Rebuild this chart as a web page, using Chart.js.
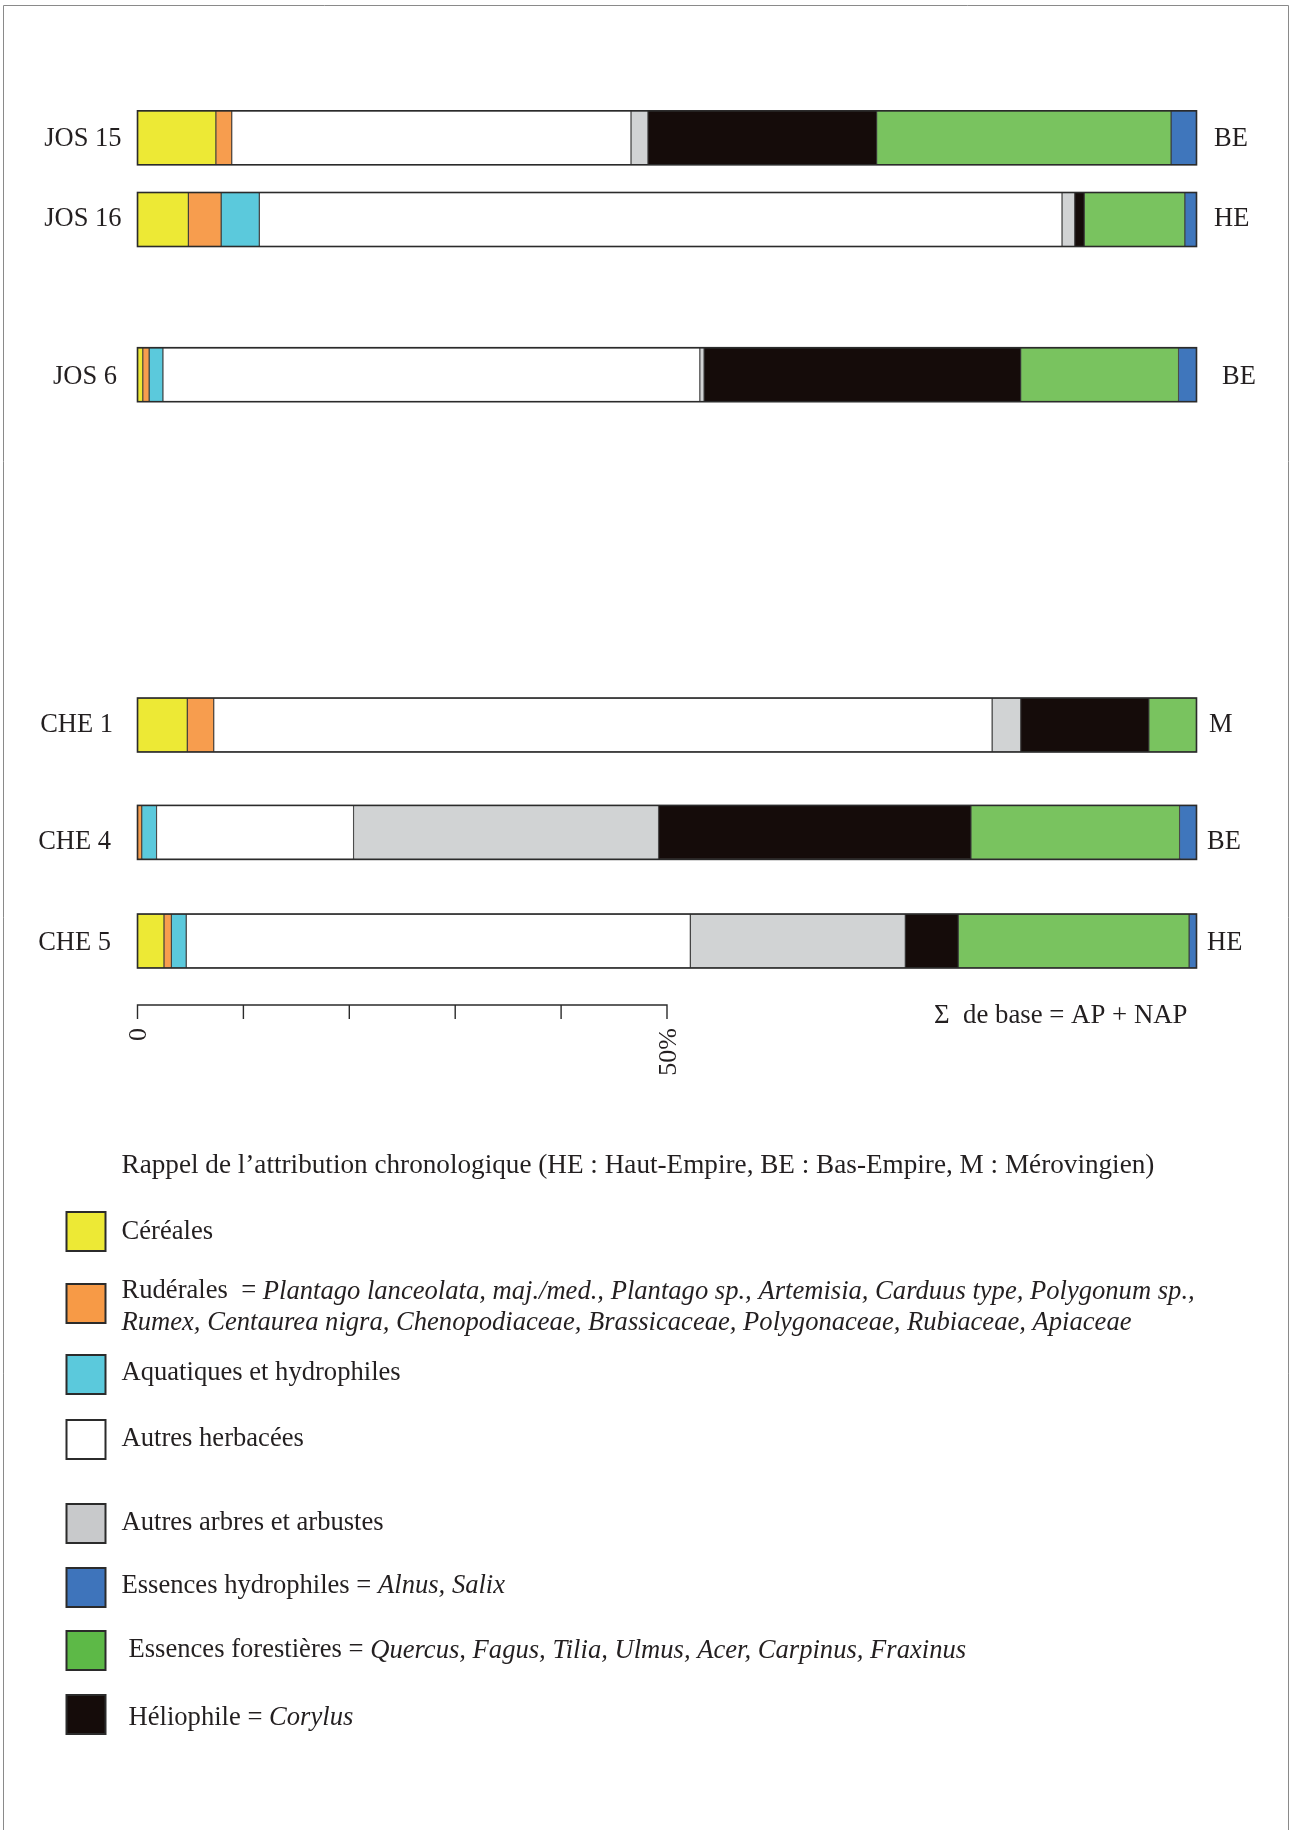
<!DOCTYPE html>
<html>
<head>
<meta charset="utf-8">
<script src="https://cdn.jsdelivr.net/npm/chart.js@4.4.1/dist/chart.umd.min.js"></script>
<style>
html,body{margin:0;padding:0;background:#fff;}
#wrap{position:relative;width:1290px;height:1830px;}
canvas{display:block;}
</style>
</head>
<body>
<div id="wrap"><canvas id="c" width="1290" height="1830"></canvas></div>
<script>
// ---------- DATA (percent of pollen sum) ----------
const samples = ['JOS 15', 'JOS 16', 'JOS 6', 'CHE 1', 'CHE 4', 'CHE 5'];
const periods = ['BE', 'HE', 'BE', 'M', 'BE', 'HE'];

const cereales        = [7.4, 4.8, 0.5, 4.7, 0.0, 2.5];
const ruderales       = [1.5, 3.1, 0.6, 2.5, 0.4, 0.7];
const aquatiques      = [0.0, 3.6, 1.3, 0.0, 1.4, 1.4];
const autresHerbacees = [37.7, 75.8, 50.7, 73.5, 18.6, 47.6];
const autresArbres    = [1.6, 1.2, 0.4, 2.7, 28.8, 20.3];
const heliophile      = [21.6, 0.9, 29.9, 12.1, 29.5, 5.0];
const forestieres     = [27.8, 9.5, 14.9, 4.5, 19.7, 21.8];
const hydrophiles     = [2.4, 1.1, 1.7, 0.0, 1.6, 0.7];

const axisTicks = [0, 10, 20, 30, 40, 50];
const axisTickLabels = ['0', '', '', '', '', '50%'];

const seriesNames = ['Céréales', 'Rudérales', 'Aquatiques et hydrophiles', 'Autres herbacées',
  'Autres arbres et arbustes', 'Héliophile', 'Essences forestières', 'Essences hydrophiles'];
const seriesValues = [cereales, ruderales, aquatiques, autresHerbacees, autresArbres, heliophile, forestieres, hydrophiles];

// ---------- STYLE / LAYOUT ----------
const seriesColors = ['#EDE935', '#F79D4E', '#5BC9DC', '#FFFFFF', '#D1D3D4', '#150C0A', '#79C35F', '#3F76BC'];
const legendSwatchColors = ['#EDE935', '#F79A46', '#5BC9DC', '#FFFFFF', '#C8C9CB', '#150C0A', '#5DB947', '#3E74BB'];
const rowCenters = [137.8, 219.5, 374.7, 725, 832.4, 941];   // vertical layout of rows (px)
const labelRightX = [121.5, 121.5, 117, 113, 111, 111];
const labelDy = [1, 0, 2.5, 0.5, 9.5, 2];
const periodLeftX = [1214, 1214, 1222, 1209, 1207, 1207];
const BAR_H = 54;
const TEXT = '#231F20';
const FONT = '"Liberation Serif", "Times New Roman", serif';

// legend: order of entries and rich text lines [text, italic]
const legendOrder = [0, 1, 2, 3, 4, 7, 6, 5];
const legendTexts = {
  0: [[['Céréales', false]]],
  1: [[['Rudérales  = ', false], ['Plantago lanceolata, maj./med., Plantago sp., Artemisia, Carduus type, Polygonum sp.,', true]],
      [['Rumex, Centaurea nigra, Chenopodiaceae, Brassicaceae, Polygonaceae, Rubiaceae, Apiaceae', true]]],
  2: [[['Aquatiques et hydrophiles', false]]],
  3: [[['Autres herbacées', false]]],
  4: [[['Autres arbres et arbustes', false]]],
  7: [[['Essences hydrophiles = ', false], ['Alnus, Salix', true]]],
  6: [[['Essences forestières = ', false], ['Quercus, Fagus, Tilia, Ulmus, Acer, Carpinus, Fraxinus', true]]],
  5: [[['Héliophile = ', false], ['Corylus', true]]]
};
const legendSwatchTop = [1212, 1284, 1355, 1420, 1504, 1568, 1631, 1695];
const legendTextX = [121.5, 121.5, 121.5, 121.5, 121.5, 121.5, 128.5, 128.5];
const legendTextY = [1232.5, 1291.5, 1373.5, 1439.5, 1523.5, 1586, 1650.5, 1718];
const SW = 39;

function font(size, italic) { return (italic ? 'italic ' : '') + size + 'px ' + FONT; }

const decorPlugin = {
  id: 'decor',
  afterDraw(chart) {
    const ctx = chart.ctx;
    const xs = chart.scales.x, ys = chart.scales.y;
    ctx.save();
    // page frame
    ctx.strokeStyle = '#8a8a8a'; ctx.lineWidth = 1;
    ctx.beginPath();
    ctx.moveTo(3.5, 1830); ctx.lineTo(3.5, 5.5); ctx.lineTo(1288.5, 5.5); ctx.lineTo(1288.5, 1830);
    ctx.stroke();

    // outer bar outlines
    ctx.strokeStyle = '#2b2b2b'; ctx.lineWidth = 1.6;
    samples.forEach((s, i) => {
      const yc = ys.getPixelForValue(rowCenters[i]);
      const x0 = xs.getPixelForValue(0), x1 = xs.getPixelForValue(100);
      ctx.strokeRect(x0, yc - BAR_H / 2, x1 - x0, BAR_H);
    });

    // row labels
    ctx.fillStyle = TEXT; ctx.font = font(26.5, false); ctx.textBaseline = 'middle';
    samples.forEach((s, i) => {
      const yc = ys.getPixelForValue(rowCenters[i]) + labelDy[i];
      ctx.textAlign = 'right'; ctx.fillText(s, labelRightX[i], yc);
      ctx.textAlign = 'left'; ctx.fillText(periods[i], periodLeftX[i], yc);
    });

    // bottom percentage axis (0 - 50 %)
    const axY = 1005;
    ctx.strokeStyle = '#2b2b2b'; ctx.lineWidth = 1.4;
    ctx.beginPath();
    ctx.moveTo(xs.getPixelForValue(axisTicks[0]), axY);
    ctx.lineTo(xs.getPixelForValue(axisTicks[axisTicks.length - 1]), axY);
    axisTicks.forEach(t => {
      const px = xs.getPixelForValue(t);
      ctx.moveTo(px, axY - 0.7); ctx.lineTo(px, axY + 14);
    });
    ctx.stroke();
    ctx.font = font(26, false);
    axisTicks.forEach((t, i) => {
      if (!axisTickLabels[i]) return;
      const px = xs.getPixelForValue(t);
      ctx.save();
      ctx.translate(px + 2, 1028);
      ctx.rotate(-Math.PI / 2);
      ctx.textAlign = 'right'; ctx.textBaseline = 'middle';
      ctx.fillText(axisTickLabels[i], 0, 0);
      ctx.restore();
    });

    // sum note
    ctx.textAlign = 'left'; ctx.textBaseline = 'middle'; ctx.font = font(26.8, false);
    ctx.fillText('Σ  de base = AP + NAP', 934, 1016);

    // legend title
    ctx.font = font(27.2, false);
    ctx.fillText('Rappel de l\u2019attribution chronologique (HE : Haut-Empire, BE : Bas-Empire, M : Mérovingien)', 121.5, 1165.5);

    // legend entries
    legendOrder.forEach((k, j) => {
      const top = legendSwatchTop[j];
      ctx.fillStyle = legendSwatchColors[k];
      ctx.fillRect(66.5, top, SW, SW);
      ctx.strokeStyle = '#2b2b2b'; ctx.lineWidth = 2;
      ctx.strokeRect(66.5, top, SW, SW);
      ctx.fillStyle = TEXT;
      legendTexts[k].forEach((line, li) => {
        let x = legendTextX[j];
        const y = legendTextY[j] + li * 31.5;
        line.forEach(([txt, it]) => {
          ctx.font = font(26.6, it);
          ctx.fillText(txt, x, y);
          x += ctx.measureText(txt).width;
        });
      });
    });
    ctx.restore();
  }
};

function build() {
  const datasets = seriesNames.map((name, k) => ({
    label: name,
    data: seriesValues[k].map((v, i) => ({ x: v, y: rowCenters[i] })),
    backgroundColor: seriesColors[k],
    borderColor: '#3a3a3a',
    borderWidth: 0.9,
    borderSkipped: false,
    barThickness: BAR_H
  }));

  new Chart(document.getElementById('c'), {
    type: 'bar',
    data: { datasets },
    options: {
      indexAxis: 'y',
      responsive: false,
      maintainAspectRatio: false,
      devicePixelRatio: 1,
      animation: false,
      layout: { padding: { left: 137.5, right: 93.5, top: 0, bottom: 0 } },
      scales: {
        x: { type: 'linear', min: 0, max: 100, stacked: true, display: false, offset: false },
        y: { type: 'linear', min: 0, max: 1830, reverse: true, stacked: true, display: false,
             offset: false, grid: { offset: false } }
      },
      plugins: { legend: { display: false }, tooltip: { enabled: false } }
    },
    plugins: [decorPlugin]
  });
}

Promise.all([
  document.fonts.load('26px "Liberation Serif"'),
  document.fonts.load('italic 26px "Liberation Serif"')
]).then(build, build);
</script>
</body>
</html>
